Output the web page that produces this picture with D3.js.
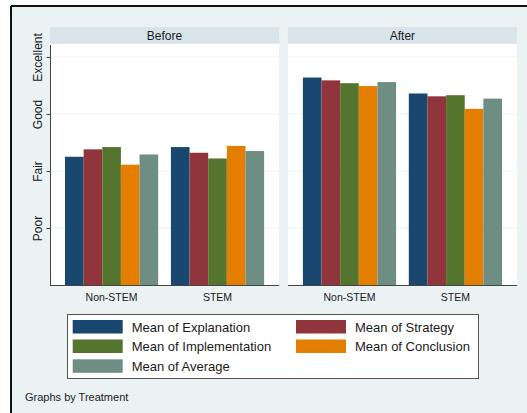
<!DOCTYPE html>
<html><head><meta charset="utf-8">
<script src="https://cdn.jsdelivr.net/npm/d3@7"></script>
<style>
html,body{margin:0;padding:0;background:#fff;}
svg{display:block;font-family:Arial,"Liberation Sans",sans-serif;}
</style></head>
<body>
<svg id="chart" width="527" height="413"></svg>
<script>
const treatments = ["Before", "After"];
const groups = ["Non-STEM", "STEM"];
const seriesNames = ["Mean of Explanation", "Mean of Strategy", "Mean of Implementation", "Mean of Conclusion", "Mean of Average"];
const seriesColors = ["#1a476f", "#90353b", "#55752f", "#e37e00", "#6e8e84"];
const yTickValues = [1, 2, 3, 4];
const yTickLabels = ["Poor", "Fair", "Good", "Excellent"];
const beforeNonStem = [2.25, 2.38, 2.42, 2.11, 2.29];
const beforeStem = [2.42, 2.32, 2.22, 2.44, 2.35];
const afterNonStem = [3.64, 3.59, 3.54, 3.49, 3.56];
const afterStem = [3.36, 3.31, 3.33, 3.09, 3.27];

const values = {
  "Before": {"Non-STEM": beforeNonStem, "STEM": beforeStem},
  "After": {"Non-STEM": afterNonStem, "STEM": afterStem}
};

const svg = d3.select("#chart");
// graph region
svg.append("rect").attr("x", 11).attr("y", 6).attr("width", 516).attr("height", 407).attr("fill", "#eaf2f3");
svg.append("line").attr("x1", 11).attr("x2", 527).attr("y1", 6).attr("y2", 6).attr("stroke", "#111").attr("stroke-width", 2);
svg.append("line").attr("x1", 11).attr("x2", 11).attr("y1", 6).attr("y2", 413).attr("stroke", "#111").attr("stroke-width", 2);

const plotTop = 44, plotBottom = 285;
const y = d3.scaleLinear().domain([0, 4.228]).range([plotBottom, plotTop]);

const panels = d3.scaleBand().domain(treatments).range([50, 517]).paddingInner(0.037).paddingOuter(0);
const xGroup = d3.scaleBand().domain(groups).range([0, panels.bandwidth()]).paddingInner(0.12).paddingOuter(0.1415);
const xSeries = d3.scaleBand().domain(d3.range(seriesNames.length)).range([0, xGroup.bandwidth()]).padding(0);

treatments.forEach(t => {
  const g = svg.append("g").attr("transform", `translate(${panels(t)},0)`);
  const w = panels.bandwidth();
  // strip
  g.append("rect").attr("x", 0).attr("y", 27).attr("width", w).attr("height", 16.5).attr("fill", "#d8e4ea");
  g.append("text").attr("x", w / 2).attr("y", 35.5).attr("text-anchor", "middle").attr("dominant-baseline", "central")
    .attr("font-size", 12).attr("fill", "#1a1a1a").text(t);
  // plot area
  g.append("rect").attr("x", 0).attr("y", plotTop).attr("width", w).attr("height", plotBottom - plotTop).attr("fill", "#fff");
  // gridlines
  g.selectAll("line.grid").data(yTickValues).join("line").attr("class", "grid")
    .attr("x1", 0).attr("x2", w).attr("y1", d => y(d)).attr("y2", d => y(d))
    .attr("stroke", "#eaf2f3").attr("stroke-width", 1);
  // bars
  groups.forEach(gr => {
    const gg = g.append("g").attr("transform", `translate(${xGroup(gr)},0)`);
    gg.selectAll("rect").data(values[t][gr]).join("rect")
      .attr("x", (d, i) => xSeries(i)).attr("width", xSeries.bandwidth())
      .attr("y", d => y(d)).attr("height", d => y(0) - y(d))
      .attr("fill", (d, i) => seriesColors[i]);
    g.append("text").attr("x", xGroup(gr) + xGroup.bandwidth() / 2).attr("y", 297)
      .attr("text-anchor", "middle").attr("dominant-baseline", "central")
      .attr("font-size", 10.5).attr("fill", "#1a1a1a").text(gr);
  });
  // x axis line
  g.append("line").attr("x1", 0).attr("x2", w).attr("y1", plotBottom + 0.5).attr("y2", plotBottom + 0.5)
    .attr("stroke", "#444").attr("stroke-width", 1);
});

// y axis on first panel
const yAxis = d3.axisLeft(y).tickValues(yTickValues).tickSize(4).tickFormat((d, i) => yTickLabels[i]);
const ya = svg.append("g").attr("transform", `translate(${panels("Before") + 0.5},0)`).call(yAxis);
ya.select(".domain").attr("d", `M0,${plotTop + 1}V${plotBottom}`).attr("stroke", "#444");
ya.selectAll(".tick line").attr("stroke", "#444");
ya.selectAll(".tick text").attr("font-size", 12).attr("fill", "#1a1a1a")
  .attr("font-family", "Arial, 'Liberation Sans', sans-serif")
  .attr("transform", function(d) { return `translate(${-13 + 0},0) rotate(-90)`; })
  .attr("x", 0).attr("y", 0).attr("dy", "0").attr("text-anchor", "middle").attr("dominant-baseline", "central");

// legend
const lg = svg.append("g");
lg.append("rect").attr("x", 67.5).attr("y", 314.5).attr("width", 411).attr("height", 64).attr("fill", "#fff").attr("stroke", "#555").attr("stroke-width", 1);
const colX = [72.7, 296];
const rowY = [320, 339.5, 359.3];
seriesNames.forEach((s, i) => {
  const c = i % 2, r = Math.floor(i / 2);
  lg.append("rect").attr("x", colX[c]).attr("y", rowY[r]).attr("width", 50).attr("height", 13.5).attr("fill", seriesColors[i]);
  lg.append("text").attr("x", colX[c] + 59).attr("y", rowY[r] + 7).attr("dominant-baseline", "central")
    .attr("font-size", 13).attr("fill", "#1a1a1a").text(s);
});

svg.append("text").attr("x", 25).attr("y", 397).attr("dominant-baseline", "central")
  .attr("font-size", 11).attr("fill", "#1a1a1a").text("Graphs by Treatment");
</script>
</body></html>
